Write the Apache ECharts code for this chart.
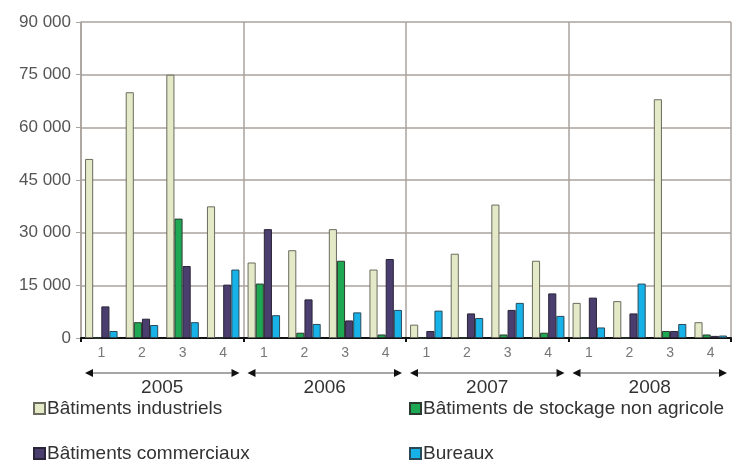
<!DOCTYPE html>
<html>
<head>
<meta charset="utf-8">
<script src="https://cdn.jsdelivr.net/npm/echarts@6/dist/echarts.min.js"></script>
<style>
html,body{margin:0;padding:0;background:#fff;}
#c{width:742px;height:463px;}
</style>
</head>
<body>
<div id="c"></div>
<script>
const years = ['2005', '2006', '2007', '2008'];
const quarters = ['1', '2', '3', '4'];
const industriels = [51000, 70000, 75000, 37500, 21500, 25000, 31000, 19500, 3800, 24000, 38000, 22000, 10000, 10500, 68000, 4500];
const stockage = [0, 4500, 34000, 0, 15500, 1500, 22000, 1000, 0, 0, 1000, 1500, 0, 0, 2000, 1000];
const commerciaux = [9000, 5500, 20500, 15200, 31000, 11000, 5000, 22500, 2000, 7000, 8000, 12700, 11500, 7000, 2000, 600];
const bureaux = [2000, 3700, 4500, 19500, 6500, 4000, 7300, 8000, 7800, 5700, 10000, 6300, 3000, 15500, 4000, 700];
const seriesNames = ['Bâtiments industriels', 'Bâtiments de stockage non agricole', 'Bâtiments commerciaux', 'Bureaux'];

const categories = [];
years.forEach(y => quarters.forEach(q => categories.push(y + '|' + q)));

const colors = ['#e4eac8', '#1fa854', '#4a3e6e', '#17b2e8'];
const borders = ['#6b6b5e', '#2b3b2f', '#2a2438', '#2a4a5a'];

function fmt(v) {
  return String(v).replace(/\B(?=(\d{3})+(?!\d))/g, ' ');
}

const chart = echarts.init(document.getElementById('c'), null, {renderer: 'canvas'});

function bar(i, data) {
  return {
    name: seriesNames[i],
    type: 'bar',
    xAxisIndex: 0,
    yAxisIndex: 0,
    data: data,
    barGap: '0%',
    barCategoryGap: '20%',
    itemStyle: {color: colors[i], borderColor: borders[i], borderWidth: 1},
    emphasis: {disabled: true},
    animation: false
  };
}

const legendPos = [[28, 396], [404, 396], [28, 441], [404, 441]];
function legend(i) {
  return {
    data: [seriesNames[i]],
    left: legendPos[i][0], top: legendPos[i][1],
    padding: [3, 5, 3, 5],
    itemWidth: 11, itemHeight: 11, itemGap: 4,
    icon: 'rect',
    textStyle: {fontSize: 19, color: '#333', padding: [0, 0, 0, -3]},
    selectedMode: false
  };
}

const option = {
  animation: false,
  textStyle: {fontFamily: 'Liberation Sans, Arial, sans-serif'},
  grid: {left: 81, right: 11, top: 22, bottom: 125, containLabel: false},
  legend: [legend(0), legend(1), legend(2), legend(3)],
  xAxis: [
    {
      type: 'category',
      data: categories,
      position: 'bottom',
      axisLine: {show: true, lineStyle: {color: '#111', width: 2}},
      axisTick: {show: false},
      axisLabel: {
        margin: 8, fontSize: 14, color: '#777',
        interval: 0,
        formatter: v => v.split('|')[1]
      },
      splitLine: {show: false}
    },
    {
      type: 'category',
      data: years,
      position: 'bottom',
      axisLine: {show: false},
      axisTick: {show: true, inside: false, length: 4, lineStyle: {color: '#111', width: 2}},
      axisLabel: {margin: 40, fontSize: 19, color: '#333'},
      splitLine: {show: true, lineStyle: {color: '#aaa39c', width: 1.5}}
    }
  ],
  yAxis: {
    type: 'value',
    min: 0, max: 90000, interval: 15000,
    axisLine: {show: true, lineStyle: {color: '#aaa39c', width: 1.5}},
    axisTick: {show: true, length: 5, lineStyle: {color: '#aaa39c'}},
    axisLabel: {fontSize: 17, color: '#555', margin: 10, formatter: fmt},
    splitLine: {show: true, lineStyle: {color: '#aaa39c', width: 1.5}}
  },
  series: [
    bar(0, industriels),
    bar(1, stockage),
    bar(2, commerciaux),
    bar(3, bureaux),
    {
      type: 'custom',
      name: 'arrows',
      xAxisIndex: 1,
      yAxisIndex: 0,
      clip: false,
      silent: true,
      data: years.map((y, i) => [i, 0]),
      renderItem: function (params, api) {
        const p = api.coord([api.value(0), 0]);
        const bw = api.size([1, 0])[0];
        const y = p[1] + 35;
        const x1 = p[0] - bw / 2 + 4;
        const x2 = p[0] + bw / 2 - 4;
        const ah = 8, aw = 4;
        return {
          type: 'group',
          children: [
            {type: 'line', shape: {x1: x1 + ah, y1: y, x2: x2 - ah, y2: y}, style: {stroke: '#888', lineWidth: 1.5}},
            {type: 'polygon', shape: {points: [[x1, y], [x1 + ah, y - aw], [x1 + ah, y + aw]]}, style: {fill: '#111'}},
            {type: 'polygon', shape: {points: [[x2, y], [x2 - ah, y - aw], [x2 - ah, y + aw]]}, style: {fill: '#111'}}
          ]
        };
      }
    }
  ]
};
chart.setOption(option);
</script>
</body>
</html>
